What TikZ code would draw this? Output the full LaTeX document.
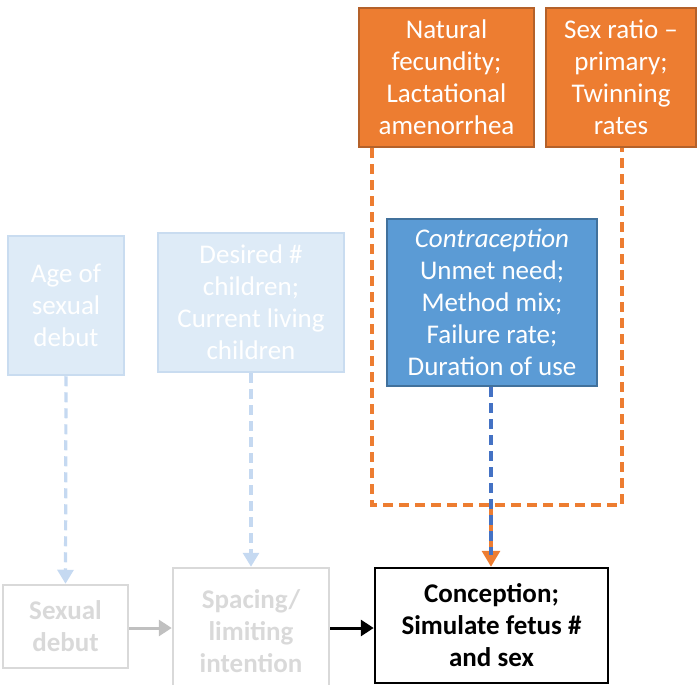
\documentclass[tikz,border=0pt]{standalone}
\usepackage{fontspec}
\setmainfont{Carlito}
\usetikzlibrary{arrows.meta}
\definecolor{lbfill}{HTML}{DEEBF7}
\definecolor{lbdraw}{HTML}{C9DCF0}
\definecolor{lbarrow}{HTML}{C5D9F1}
\definecolor{orfill}{HTML}{ED7D31}
\definecolor{ordraw}{HTML}{B4612A}
\definecolor{bufill}{HTML}{5B9BD5}
\definecolor{budraw}{HTML}{41719C}
\definecolor{budash}{HTML}{4472C4}
\definecolor{grtext}{HTML}{D9D9D9}
\definecolor{grarrow}{HTML}{C0C0C0}
\tikzset{
  x=1pt, y=-1pt,
  box/.style={draw, line width=2.5pt, align=center, inner sep=0pt,
    font=\fontsize{27}{32}\selectfont},
  faded/.style={box, fill=lbfill, draw=lbdraw, text=white},
  orbox/.style={box, fill=orfill, draw=ordraw, text=white},
  bubox/.style={box, fill=bufill, draw=budraw, text=white},
  grbox/.style={box, draw=grtext, text=grtext, font=\fontsize{27}{32}\selectfont\bfseries},
  dsh/.style={line width=3.2pt, dash pattern=on 10pt off 6pt},
}
\begin{document}
\begin{tikzpicture}
\useasboundingbox (0,0) rectangle (697,685);
% boxes
\node[faded, minimum width=116, minimum height=139] (age) at (66,305.5) {Age of\\sexual\\debut};
\node[faded, minimum width=186, minimum height=139] (des) at (251,302.5) {Desired \#\\children;\\Current living\\children};
\node[orbox, minimum width=175, minimum height=139] (nat) at (446.5,77.5) {Natural\\fecundity;\\Lactational\\amenorrhea};
\node[orbox, minimum width=150, minimum height=139] (sex) at (621,77.5) {Sex ratio --\\primary;\\Twinning\\rates};
\node[bubox, minimum width=210, minimum height=167] (con) at (492,302.5) {\textit{Contraception}\\Unmet need;\\Method mix;\\Failure rate;\\Duration of use};
\node[grbox, minimum width=125, minimum height=83] (sdb) at (65.5,626.5) {Sexual\\debut};
\node[grbox, minimum width=156, minimum height=126] (spc) at (251,631) {Spacing/\\limiting\\intention};
\node[box, draw=black, font=\fontsize{27}{32}\selectfont\bfseries, minimum width=233, minimum height=115] (cnc) at (491.5,625.5) {Conception;\\Simulate fetus \#\\and sex};
% coordinates for orange bracket
\coordinate (ol) at (372,505);
\coordinate (or) at (622,505);
\coordinate (om) at (491,505);
% faded dashed arrows
\draw[dsh, draw=lbarrow, -{Triangle[length=14pt,width=16pt]}] (age.south) -- (sdb.north);
\draw[dsh, draw=lbarrow, -{Triangle[length=14pt,width=16pt]}] (des.south) -- (spc.north);
% orange bracket
\draw[dsh, draw=orfill] (nat.south -| ol) -- (ol) -- (or) -- (sex.south -| or);
\draw[dsh, draw=orfill, -{Triangle[length=16pt,width=18pt]}] (om) -- (cnc.north -| om);
% blue dashed
\draw[dsh, draw=budash] (con.south -| om) -- ([yshift=12pt]cnc.north -| om);
% bottom arrows
\draw[line width=3pt, draw=grarrow, -{Triangle[length=13pt,width=16pt]}] (sdb.east |- 0,628) -- (spc.west |- 0,628);
\draw[line width=3pt, draw=black, -{Triangle[length=13pt,width=16pt]}] (spc.east |- 0,628) -- (cnc.west |- 0,628);
\end{tikzpicture}
\end{document}
